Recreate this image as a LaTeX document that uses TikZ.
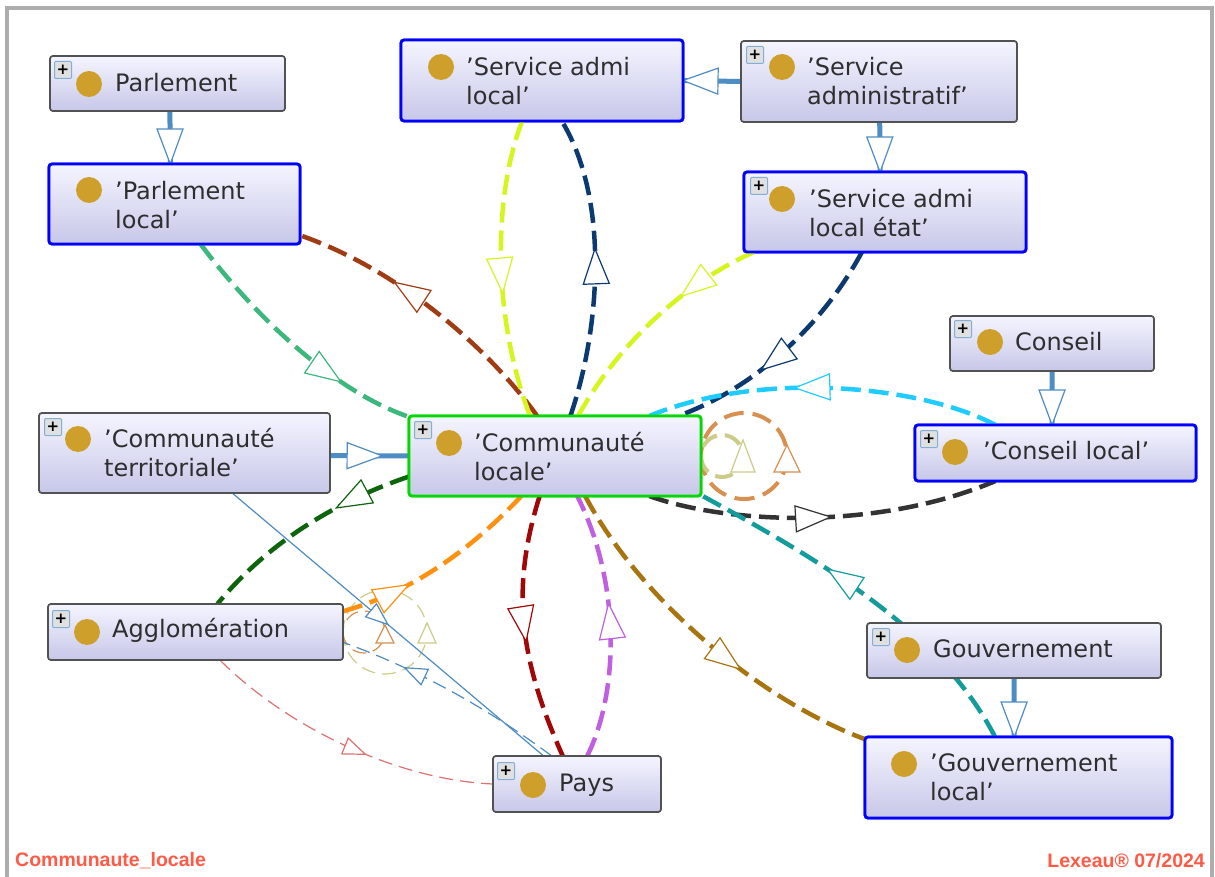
\documentclass[tikz,border=0pt]{standalone}
\usepackage{fontspec}
\setmainfont{DejaVu Sans}
\newfontfamily\footfont{Liberation Sans}
\usetikzlibrary{decorations.markings,calc}
\definecolor{cBrown}{HTML}{A03C14}
\definecolor{cLime}{HTML}{D6F51E}
\definecolor{cNavy}{HTML}{0C3A70}
\definecolor{cSea}{HTML}{3CB87C}
\definecolor{cCyan}{HTML}{20CCFF}
\definecolor{cBlack}{HTML}{333333}
\definecolor{cTeal}{HTML}{149C9C}
\definecolor{cOlive}{HTML}{A87410}
\definecolor{cRed}{HTML}{A00808}
\definecolor{cPurple}{HTML}{C060E0}
\definecolor{cOrange}{HTML}{FF9010}
\definecolor{cGreen}{HTML}{0C640C}
\definecolor{cLoopA}{HTML}{D89050}
\definecolor{cLoopB}{HTML}{CCCC88}
\definecolor{cBlue}{HTML}{4E8CC4}
\definecolor{cPink}{HTML}{E07070}
\definecolor{cFoot}{HTML}{FF5A46}
\tikzset{
  x=1pt,y=-1pt,
  boxbase/.style={rectangle,rounded corners=3pt,inner sep=0pt,outer sep=0pt,top color=white!96!blue,bottom color=blue!60!black!22!white},
  grayframe/.style={boxbase,draw=black!68,line width=1.6pt},
  blueframe/.style={boxbase,draw=blue,line width=2.8pt},
  greenframe/.style={boxbase,draw=green!85!black,line width=2.8pt},
  dotmark/.style={circle,fill=cDot,inner sep=0pt,minimum size=26pt},
  plusmark/.style={rectangle,inner sep=0pt,minimum size=17pt,draw=cBlue!70,line width=1pt,fill=black!12,rounded corners=1pt,font=\fontsize{15}{15}\selectfont\bfseries},
  lbl/.style={anchor=west,align=left,inner sep=0pt,text=black!82,font=\fontsize{24}{29}\selectfont},
  footlbl/.style={inner sep=0pt,text=cFoot,font=\footfont\fontsize{19.5}{20}\selectfont\bfseries},
  bold/.style={line width=4.5pt,dash pattern=on 20pt off 8pt},
  fine/.style={line width=1.2pt,dash pattern=on 14pt off 7pt},
  solidthick/.style={line width=5pt},
  tipbig/.style 2 args={postaction={decorate,decoration={markings,mark=at position #1 with {\draw[solid,line width=1.2pt,draw=#2,fill=white] (0,0)--(-35,13)--(-35,-13)--cycle;}}}},
  tipsmall/.style 2 args={postaction={decorate,decoration={markings,mark=at position #1 with {\draw[solid,line width=1.2pt,draw=#2,fill=white] (0,0)--(-22,8.5)--(-22,-8.5)--cycle;}}}},
  tiploop/.style n args={4}{postaction={decorate,decoration={markings,mark=at position 0.5 with {\draw[solid,line width=1.2pt,draw=#1,fill=white] (#2,0)--(#2-#3,#4)--(#2-#3,-#4)--cycle;}}}},
}
\definecolor{cDot}{HTML}{CF9F2C}
\newcommand{\ubox}[6]{\node[#6,minimum width=(#4-#2)*1pt,minimum height=(#5-#3)*1pt] (#1) at ({(#2+#4)/2},{(#3+#5)/2}) {};}
\newcommand{\ubtn}[3]{\node[plusmark] (#1p) at (#2+9,#3+9) {+};}
\newcommand{\utxt}[6]{\node[dotmark] (#1d) at (#2,#3) {};\node[lbl] (#1t) at (#4,#5) {#6};}
\begin{document}
\begin{tikzpicture}
\useasboundingbox (0,0) rectangle (1215,877);
\fill[white] (0,0) rectangle (1215,877);
\draw[black!32,line width=4pt] (7,877) -- (7,8.5) -- (1212,8.5) -- (1212,877);
% boxes (geometry only, so connectors can use their names)
\path[use as bounding box] (0,0) rectangle (1215,877);
\begin{scope}
\ubox{par}{50}{56}{285}{111}{grayframe}
\ubox{pl}{49}{164}{300}{244}{blueframe}
\ubox{sal}{401}{40}{683}{121}{blueframe}
\ubox{sa}{741}{41}{1017}{122}{grayframe}
\ubox{et}{744}{172}{1026}{252}{blueframe}
\ubox{co}{950}{316}{1154}{371}{grayframe}
\ubox{cl}{915}{425}{1196}{481}{blueframe}
\ubox{ct}{39}{413}{330}{493}{grayframe}
\ubox{cm}{409}{416}{701}{496}{greenframe}
\ubox{ag}{48}{604}{343}{660}{grayframe}
\ubox{go}{867}{623}{1161}{678}{grayframe}
\ubox{gl}{865}{737}{1172}{818}{blueframe}
\ubox{pa}{493}{756}{661}{812}{grayframe}
\end{scope}
% loops
\draw[cLoopA,bold,line width=4pt,dash pattern=on 20pt off 9pt,tiploop={cLoopA}{11}{27}{13}] (cm.east) arc[start angle=180,end angle=540,radius=43pt];
\draw[cLoopB,bold,line width=4pt,dash pattern=on 18pt off 8pt,tiploop={cLoopB}{16}{32}{12}] (cm.east) arc[start angle=180,end angle=540,radius=21pt];
\draw[cLoopB,fine,tiploop={cLoopB}{9}{20}{9}] (ag.east) arc[start angle=180,end angle=540,radius=42pt];
\draw[cLoopA,fine,tiploop={cLoopA}{7}{18}{9}] (ag.east) arc[start angle=180,end angle=540,radius=21pt];
% curved connectors
\draw[cBrown,bold,tipbig={0.65}{cBrown}] (cm.114) .. controls (490,350) and (400,270) .. (pl.-14);
\draw[cSea,bold,tipbig={0.72}{cSea}] (pl.-57) .. controls (250,310) and (330,390) .. (cm.165);
\draw[cLime,bold,tipbig={0.58}{cLime}] (sal.-116) .. controls (495,190) and (490,310) .. (cm.122);
\draw[cNavy,bold,tipbig={0.56}{cNavy}] (cm.69) .. controls (600,330) and (610,200) .. (sal.-64);
\draw[cLime,bold,tipbig={0.35}{cLime}] (et.-163) .. controls (690,280) and (620,340) .. (cm.60);
\draw[cNavy,bold,tipbig={0.62}{cNavy}] (et.-120) .. controls (820,330) and (750,390) .. (cm.18);
\draw[cCyan,bold,tipbig={0.58}{cCyan}] (cl.155) .. controls (920,385) and (760,370) .. (cm.23);
\draw[cBlack,bold,tipbig={0.52}{cBlack}] (cm.-23) .. controls (730,525) and (880,530) .. (cl.-155);
\draw[cTeal,bold,tipbig={0.62}{cTeal}] (gl.120) .. controls (940,630) and (820,560) .. (cm.-15);
\draw[cOlive,bold,tipbig={0.62}{cOlive}] (cm.-53) .. controls (640,600) and (760,700) .. (gl.166);
\draw[cRed,bold,tipbig={0.55}{cRed}] (cm.-111) .. controls (510,590) and (520,660) .. (pa.117);
\draw[cPurple,bold,tipbig={0.58}{cPurple}] (pa.70) .. controls (620,690) and (620,580) .. (cm.-61);
\draw[cOrange,bold,tipbig={0.33}{cOrange}] (ag.8.5) .. controls (420,590) and (480,540) .. (cm.-130);
\draw[cGreen,bold,tipbig={0.34}{cGreen}] (cm.-172) .. controls (340,500) and (270,540) .. (ag.52);
\draw[cPink,fine,tipsmall={0.57}{cPink}] (ag.-49) .. controls (290,730) and (400,780) .. (pa.west);
\draw[cBlue,fine,tipsmall={0.72}{cBlue}] (pa.132) .. controls (490,710) and (420,670) .. (ag.-4);
\draw[cBlue,line width=1.2pt,tipsmall={0.5}{cBlue}] (ct.-40) -- (pa.140.5);
% straight connectors
\draw[cBlue,solidthick,tipbig={1}{cBlue}] (par.-85) -- (pl.96);
\draw[cBlue,solidthick,tipbig={1}{cBlue}] (sa.west) -- (sal.east);
\draw[cBlue,solidthick,tipbig={1}{cBlue}] (sa.-89) -- (et.97);
\draw[cBlue,solidthick,tipbig={1}{cBlue}] (co.south) -- (cl.97);
\draw[cBlue,solidthick,tipbig={0.66}{cBlue}] (ct.-1) -- (cm.180);
\draw[cBlue,solidthick,tipbig={1}{cBlue}] (go.south) -- (gl.96);
% redraw boxes over connectors, with contents
\ubox{parb}{50}{56}{285}{111}{grayframe}
\ubox{plb}{49}{164}{300}{244}{blueframe}
\ubox{salb}{401}{40}{683}{121}{blueframe}
\ubox{sab}{741}{41}{1017}{122}{grayframe}
\ubox{etb}{744}{172}{1026}{252}{blueframe}
\ubox{cob}{950}{316}{1154}{371}{grayframe}
\ubox{clb}{915}{425}{1196}{481}{blueframe}
\ubox{ctb}{39}{413}{330}{493}{grayframe}
\ubox{cmb}{409}{416}{701}{496}{greenframe}
\ubox{agb}{48}{604}{343}{660}{grayframe}
\ubox{gob}{867}{623}{1161}{678}{grayframe}
\ubox{glb}{865}{737}{1172}{818}{blueframe}
\ubox{pab}{493}{756}{661}{812}{grayframe}
\ubtn{par}{54}{61}
\ubtn{sa}{746}{46}
\ubtn{et}{750}{177}
\ubtn{co}{954}{320}
\ubtn{cl}{920}{430}
\ubtn{ct}{44}{418}
\ubtn{cm}{414}{421}
\ubtn{ag}{52}{610}
\ubtn{go}{872}{628}
\ubtn{pa}{497}{762}
\utxt{par}{89}{84}{115}{83}{Parlement}
\utxt{pl}{89}{190}{115}{205}{'Parlement\\local'}
\utxt{sal}{441}{67}{466}{81}{'Service admi\\local'}
\utxt{sa}{782}{67}{807}{81}{'Service\\administratif'}
\utxt{et}{782}{199}{809}{213}{'Service admi\\local état'}
\utxt{co}{990}{342}{1015}{342}{Conseil}
\utxt{cl}{955}{452}{983}{451}{'Conseil local'}
\utxt{ct}{78}{439}{104}{453}{'Communauté\\territoriale'}
\utxt{cm}{449}{443}{474}{457}{'Communauté\\locale'}
\utxt{ag}{87}{632}{112}{630}{Agglomération}
\utxt{go}{907}{650}{933}{649}{Gouvernement}
\utxt{gl}{904}{764}{930}{777}{'Gouvernement\\local'}
\utxt{pa}{533}{785}{559}{785}{Pays}
\node[footlbl,anchor=west] (footl) at (15,861) {Communaute\_locale};
\node[footlbl,anchor=east] (footr) at (1205,861) {Lexeau® 07/2024};
\end{tikzpicture}
\end{document}
